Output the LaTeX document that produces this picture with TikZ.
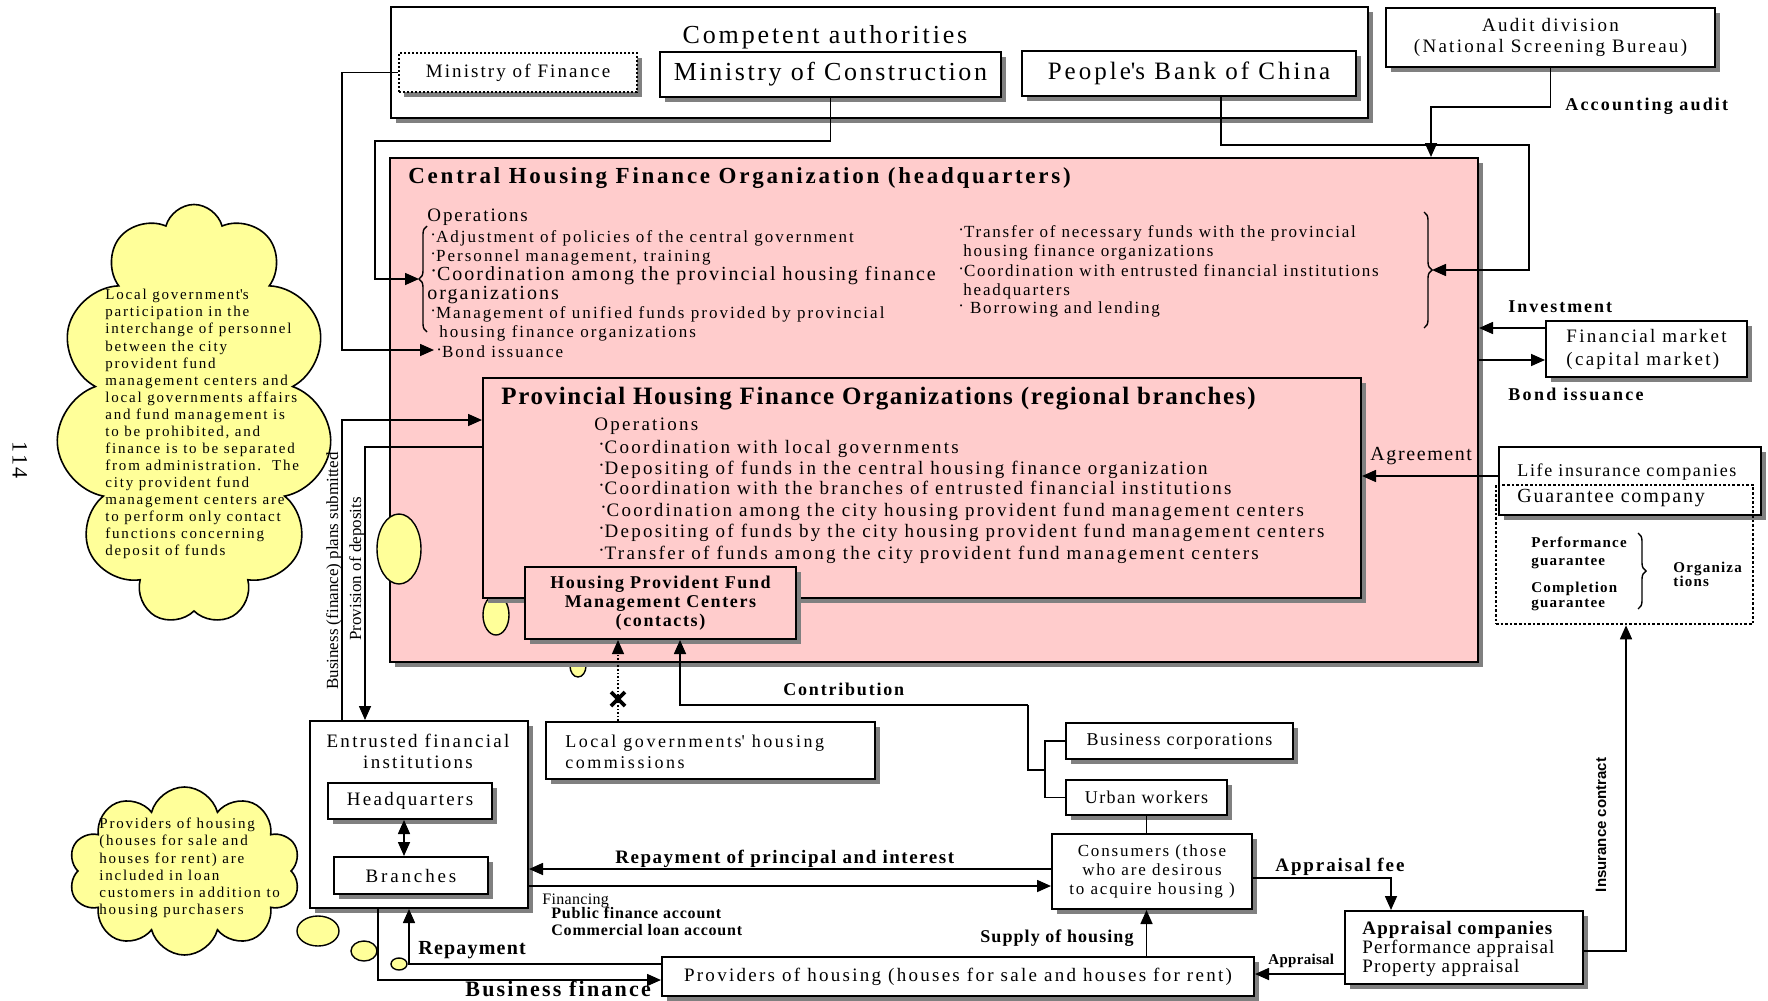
\documentclass[tikz,border=0pt]{standalone}
\usepackage{fontspec}
\setmainfont{Liberation Serif}
\setsansfont{Liberation Sans}
\usetikzlibrary{arrows.meta,shadows,shapes.symbols,decorations.pathreplacing}
\definecolor{pinkfill}{RGB}{255,204,204}
\definecolor{yellowfill}{RGB}{255,255,153}
% size, baselineskip, letter spacing
\newcommand{\fs}[3]{\fontsize{#1}{#2}\selectfont\addfontfeatures{LetterSpace=#3}}
\newcommand{\bul}{\raisebox{.35ex}{·}}
\newcommand{\apo}{\textquotesingle}
\begin{document}
\begin{tikzpicture}[x=0.5pt,y=-0.5pt,
  shad/.style={drop shadow={shadow xshift=2.5pt,shadow yshift=-2.5pt,fill=black!50,opacity=1}},
  box/.style={draw,line width=1pt,fill=white,inner sep=0pt,shad},
  pinkbox/.style={box,fill=pinkfill},
  ln/.style={line width=0.8pt},
  arr/.style={line width=0.8pt,-{Triangle[length=7pt,width=6pt]}},
  dbl/.style={line width=0.8pt,{Triangle[length=7pt,width=6pt]}-{Triangle[length=7pt,width=6pt]}},
  txt/.style={inner sep=0pt,anchor=mid west,yshift=-1.1pt},
  ell/.style={draw,line width=0.7pt,fill=yellowfill},
  brc/.style={line width=0.7pt,decorate,decoration={brace,amplitude=4pt}},
  cloudy/.style={cloud,cloud ignores aspect,draw,line width=0.8pt,fill=yellowfill,inner sep=0pt},
]
\useasboundingbox (0,0) rectangle (1768,1001);
\fill[white] (0,0) rectangle (1768,1001);

% page number
\node[rotate=-90,inner sep=0pt,font={\fs{11}{13}{10}}] (pagenum) at (20,460) {114};

% ---------- competent authorities ----------
\node[box,minimum width=488.5pt,minimum height=55.5pt] (ca) at (879.5,62.5) {};
\node[inner sep=0pt,font={\fs{13}{15}{11}}] (catitle) at (825,37) {Competent authorities};
\node[box,densely dotted,minimum width=119pt,minimum height=19.5pt,font={\fs{9.5}{11}{11}}] (mof) at (518,72.5) {Ministry of Finance};
\node[box,minimum width=170.5pt,minimum height=22.5pt,font={\fs{13}{15}{10}}] (moc) at (830.5,74.5) {Ministry of Construction};
\node[box,minimum width=167pt,minimum height=22.5pt,font={\fs{12.5}{14}{12}}] (pbc) at (1189,73.5) {People\apo s Bank of China};

% audit
\node[box,minimum width=164.5pt,minimum height=29.5pt,align=center,font={\fs{9.5}{10.5}{12}}] (audit) at (1550.5,37.5) {Audit division\\(National Screening Bureau)};
\node[txt,font={\bfseries\fs{9}{10}{12}}] (acclab) at (1565,104) {Accounting audit};

% ---------- central organization ----------
\draw[ell] (578,666) ellipse [x radius=4pt,y radius=5.5pt];
\node[pinkbox,minimum width=544pt,minimum height=252pt] (central) at (934,410) {};
\node[txt,font={\bfseries\fs{11.5}{13}{12}}] (ctitle) at (408,177) {Central Housing Finance Organization (headquarters)};
\node[txt,font={\fs{9.5}{11}{10}}] (cops) at (427,215) {Operations};
\node[txt,font={\fs{8.5}{10}{12}}] (c1) at (430,236) {\bul Adjustment of policies of the central government};
\node[txt,font={\fs{8.5}{10}{12}}] (c2) at (430,255) {\bul Personnel management, training};
\node[txt,font={\fs{10}{11}{10}}] (c3) at (430,274) {\bul Coordination among the provincial housing finance};
\node[txt,font={\fs{10}{11}{10}}] (c4) at (427,293) {organizations};
\node[txt,font={\fs{8.5}{10}{12}}] (c5) at (430,312) {\bul Management of unified funds provided by provincial};
\node[txt,font={\fs{8.5}{10}{12}}] (c6) at (439,331) {housing finance organizations};
\node[txt,font={\fs{8.5}{10}{12}}] (c7) at (436,351) {\bul Bond issuance};

\node[txt,font={\fs{8.5}{10}{10.5}}] (r1) at (958,231) {\bul Transfer of necessary funds with the provincial};
\node[txt,font={\fs{8.5}{10}{10.5}}] (r2) at (963,250) {housing finance organizations};
\node[txt,font={\fs{8.5}{10}{10.5}}] (r3) at (958,270) {\bul Coordination with entrusted financial institutions};
\node[txt,font={\fs{8.5}{10}{10.5}}] (r4) at (963,289) {headquarters};
\node[txt,font={\fs{8.5}{10}{10.5}}] (r5) at (958,307) {\bul\ Borrowing and lending};

\draw[brc] (427,332) -- (427,226);
\draw[brc] (1424,212) -- (1424,328);

% ---------- provincial organizations ----------
\draw[ell] (496,615) ellipse [x radius=6.5pt,y radius=10pt];
\node[pinkbox,minimum width=439pt,minimum height=110pt] (prov) at (922,488) {};
\node[txt,font={\bfseries\fs{12.5}{14}{6.5}}] (ptitle) at (501,398) {Provincial Housing Finance Organizations (regional branches)};
\node[txt,font={\fs{9.5}{11}{12}}] (pops) at (594,424) {Operations};
\node[txt,font={\fs{9.5}{11}{12}}] (p1) at (598,447) {\bul Coordination with local governments};
\node[txt,font={\fs{9.5}{11}{12}}] (p2) at (598,468) {\bul Depositing of funds in the central housing finance organization};
\node[txt,font={\fs{9.5}{11}{12}}] (p3) at (598,488) {\bul Coordination with the branches of entrusted financial institutions};
\node[txt,font={\fs{9.5}{11}{12}}] (p4) at (600,510) {\bul Coordination among the city housing provident fund management centers};
\node[txt,font={\fs{9.5}{11}{12}}] (p5) at (598,531) {\bul Depositing of funds by the city housing provident fund management centers};
\node[txt,font={\fs{9.5}{11}{12}}] (p6) at (598,553) {\bul Transfer of funds among the city provident fund management centers};

\node[pinkbox,minimum width=135.5pt,minimum height=36pt,align=center,font={\bfseries\fs{9}{9.5}{9}}] (hp) at (660.5,603) {Housing Provident Fund\\Management Centers\\(contacts)};

% ---------- financial market, insurers ----------
\node[box,minimum width=100.5pt,minimum height=28pt,align=left,font={\fs{9.5}{11.5}{12}}] (fm) at (1646.5,349) {Financial market\\(capital market)};
\node[txt,font={\bfseries\fs{9}{11}{11}}] (invlab) at (1508,306) {Investment};
\node[txt,font={\bfseries\fs{9}{11}{13}}] (bilab) at (1508,394) {Bond issuance};

\node[box,minimum width=131pt,minimum height=34pt] (li) at (1630,481) {};
\node[txt,font={\fs{9}{10}{9}}] (lit) at (1517,470) {Life insurance companies};
\node[draw,densely dotted,line width=1.3pt,inner sep=0pt,minimum width=128.5pt,minimum height=69.5pt] (gua) at (1624.5,554.5) {};
\node[txt,font={\fs{10}{12}{9}}] (guat) at (1517,496) {Guarantee company};
\node[txt,font={\bfseries\fs{7.5}{9}{8}}] (g1) at (1531,541) {Performance};
\node[txt,font={\bfseries\fs{7.5}{9}{8}}] (g2) at (1531,559) {guarantee};
\node[txt,font={\bfseries\fs{7.5}{9}{8}}] (g3) at (1531,586) {Completion};
\node[txt,font={\bfseries\fs{7.5}{9}{8}}] (g4) at (1531,601) {guarantee};
\draw[brc] (1638,533) -- (1638,609);
\node[txt,font={\bfseries\fs{7.5}{9}{8}}] (g5) at (1673,566) {Organiza};
\node[txt,font={\bfseries\fs{7.5}{9}{8}}] (g6) at (1673,580) {tions};
\node[txt,font={\fs{10}{12}{8}}] (aglab) at (1370,454) {Agreement};

% ---------- lower part ----------
\node[box,minimum width=109pt,minimum height=93.5pt] (entr) at (419,814.5) {};
\node[inner sep=0pt,align=center,font={\fs{9.5}{10.5}{12}}] (entrt) at (418,751) {Entrusted financial\\institutions};
\node[box,minimum width=82pt,minimum height=18pt,font={\fs{9.5}{11}{12}}] (hq) at (410,801) {Headquarters};
\node[box,minimum width=77pt,minimum height=18.5pt,font={\fs{9.5}{11}{15}}] (br) at (411,875.5) {Branches};

\node[box,minimum width=164.5pt,minimum height=28.5pt] (lgov) at (710.5,750.5) {};
\node[inner sep=0pt,anchor=west,align=left,font={\fs{9}{10.5}{14}}] (lgovt) at (565,752) {Local governments\apo\ housing\\commissions};

\node[box,minimum width=113.5pt,minimum height=18pt,font={\fs{9}{10}{8}}] (biz) at (1179.5,741) {Business corporations};
\node[box,minimum width=80.5pt,minimum height=17.5pt,font={\fs{9}{10}{8}}] (urb) at (1146.5,797.5) {Urban workers};
\node[box,minimum width=100pt,minimum height=37.5pt,align=center,font={\fs{8.5}{9.7}{11}}] (cons) at (1152,871.5) {Consumers (those\\who are desirous\\to acquire housing )};
\node[box,minimum width=119pt,minimum height=36.5pt] (apc) at (1464,947.5) {};
\node[inner sep=0pt,anchor=west,align=left,font={\fs{9.5}{9.5}{6}}] (apct) at (1362,949) {\textbf{Appraisal companies}\\Performance appraisal\\Property appraisal};
\node[box,minimum width=296pt,minimum height=19.5pt,font={\fs{9.5}{11}{12}}] (prv) at (958,976.5) {Providers of housing (houses for sale and houses for rent)};

% ---------- clouds ----------
\node[cloudy,cloud puffs=11,minimum width=138pt,minimum height=210pt] (cloudA) at (194,414.5) {};
\foreach \t [count=\i] in {Local government\apo s,participation in the,interchange of personnel,between the city,provident fund,management centers and,local governments affairs,and fund management is,{to be prohibited, and},finance is to be separated,from administration.\ \ The,city provident fund,management centers are,to perform only contact,functions concerning,deposit of funds}
  \node[txt,font={\fs{7.5}{9}{12}}] (ca\i) at (105,{293+17.07*(\i-1)}) {\t};

\node[cloudy,cloud puffs=10,minimum width=116pt,minimum height=84pt] (cloudB) at (184.5,871) {};
\foreach \t [count=\i] in {Providers of housing,{(houses for sale and},{houses for rent) are},included in loan,customers in addition to,housing purchasers}
  \node[txt,font={\fs{7.5}{9}{12}}] (cb\i) at (99,{822+17.2*(\i-1)}) {\t};

% ---------- connectors ----------
% audit
\coordinate (au1) at (1431,107);
\draw[arr] (audit.south) |- (au1) -- (au1 |- central.north);
% People's Bank of China
\coordinate (pb1) at (1221,145);
\coordinate (pb2) at (1529,145);
\coordinate (rb) at (1432,270);
\draw[arr] (pb1 |- pbc.south) -- (pb1) -- (pb2) |- (rb);
% Ministry of Construction
\coordinate (mc1) at (375,141);
\coordinate (lb) at (419,279);
\draw[arr] (moc.south) |- (mc1) |- (lb);
% Ministry of Finance
\coordinate (mf1) at (342,350);
\coordinate (bond) at (434,350);
\draw[arr] (mof.west) -| (mf1) -- (bond);
% financial market
\coordinate (inv) at ([yshift=10.5pt]fm.west);
\coordinate (bi) at ([yshift=-5.5pt]fm.west);
\draw[arr] (inv) -- (inv -| central.east);
\draw[arr] (bi -| central.east) -- (bi);
% agreement
\coordinate (ag) at ([yshift=2.5pt]li.west);
\draw[arr] (ag) -- (ag -| prov.east);
% insurance contract
\coordinate (ic) at (1626,951);
\draw[arr] (ic -| apc.east) -- (ic) -- (ic |- gua.south);
\node[rotate=90,inner sep=0pt,font={\sffamily\bfseries\fontsize{7.5}{9}\selectfont}] (iclab) at (1601,825) {Insurance contract};
% business plans / deposits
\coordinate (bp) at (342,420);
\coordinate (pd) at (365,447);
\draw[arr] (bp |- entr.north) -- (bp) -- (bp -| prov.west);
\draw[arr] (pd -| prov.west) -- (pd) -- (pd |- entr.north);
\node[rotate=90,inner sep=0pt,font={\fontsize{8.5}{10}\selectfont}] (bplab) at (334,571) {Business (finance) plans submitted};
\node[rotate=90,inner sep=0pt,font={\fontsize{8.5}{10}\selectfont}] (pdlab) at (357,569) {Provision of deposits};
\draw[ell] (399,549) ellipse [x radius=11pt,y radius=17.5pt];
% local governments (cut link)
\coordinate (lg) at (618,0);
\draw[arr,densely dotted,line width=0.6pt] (lg |- lgov.north) -- (lg |- hp.south);
\draw[line width=1.8pt] (611,692) -- (625,706) (611,706) -- (625,692);
% contribution
\coordinate (ct1) at (680,705);
\coordinate (ct2) at (1028,705);
\coordinate (ct3) at (1046,770);
\draw[arr] (ct2) -- (ct1) -- (ct1 |- hp.south);
\draw[ln] (ct2) |- (ct3);
\draw[ln] (biz.west) -- ++(-10pt,0) |- (urb.west);
\node[txt,font={\bfseries\fs{9}{11}{10}}] (ctlab) at (783,689) {Contribution};
% consumers
\draw[ln] (urb.south) -- (urb.south |- cons.north);
\coordinate (rp) at (0,869);
\coordinate (fn) at (0,886);
\draw[arr] (cons.west |- rp) -- (entr.east |- rp);
\draw[arr] (entr.east |- fn) -- (cons.west |- fn);
\node[txt,font={\bfseries\fs{9.5}{11}{8}}] (rplab) at (615,857) {Repayment of principal and interest};
\node[txt,font={\fs{8}{9}{2}}] (fnlab) at (542,898) {Financing};
\node[txt,font={\bfseries\fs{8}{9}{5}}] (fnlab2) at (551,912) {Public finance account};
\node[txt,font={\bfseries\fs{8}{9}{5}}] (fnlab3) at (551,929) {Commercial loan account};
\coordinate (hb) at (404,0);
\draw[dbl] (hb |- hq.south) -- (hb |- br.north);
% appraisal
\coordinate (af) at (1391,878);
\draw[arr] (cons.east |- af) -- (af) -- (af |- apc.north);
\node[txt,font={\bfseries\fs{9.5}{11}{10}}] (aflab) at (1275,865) {Appraisal fee};
\coordinate (ap) at (0,974);
\draw[arr] (apc.west |- ap) -- (prv.east |- ap);
\node[txt,font={\bfseries\fs{7.5}{9}{2}}] (aplab) at (1268,958) {Appraisal};
\draw[arr] (prv.north -| urb.south) -- (cons.south -| urb.south);
\node[inner sep=0pt,anchor=mid east,yshift=-1.1pt,font={\bfseries\fs{9}{10}{6}}] (sulab) at (1134,936) {Supply of housing};
% repayment / business finance
\coordinate (rpy) at (409,964);
\coordinate (bf) at (378,980);
\draw[arr] (prv.west |- rpy) -- (rpy) -- (rpy |- entr.south);
\draw[arr] (bf |- entr.south) -- (bf) -- (bf -| prv.west);
\node[txt,font={\bfseries\fs{10}{12}{6}}] (rpylab) at (418,948) {Repayment};
\node[txt,font={\bfseries\fs{11}{12}{10}}] (bflab) at (465,990) {Business finance};
\draw[ell] (318,931) ellipse [x radius=10.5pt,y radius=7.5pt];
\draw[ell] (364,951) ellipse [x radius=6.5pt,y radius=5pt];
\draw[ell] (399,964) ellipse [x radius=4pt,y radius=3pt];
\end{tikzpicture}
\end{document}
